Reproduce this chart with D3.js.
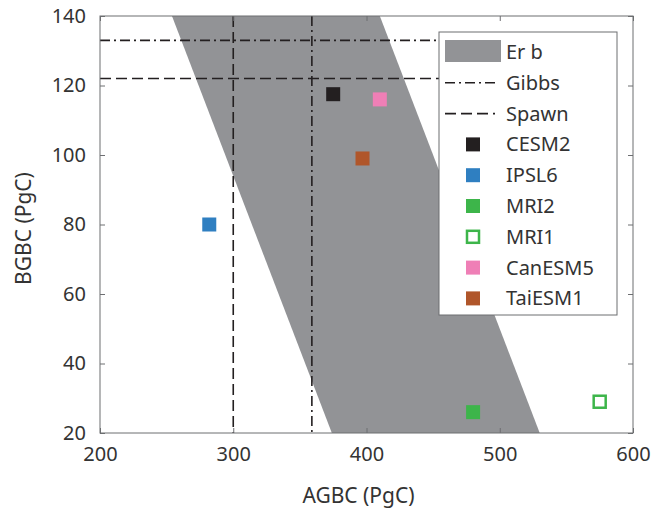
<!DOCTYPE html>
<html>
<head>
<meta charset="utf-8">
<script src="https://cdn.jsdelivr.net/npm/d3@7"></script>
<style>
  html, body { margin: 0; padding: 0; background: #fff; }
  text { font-family: "Noto Sans", "Open Sans", sans-serif; fill: #333; }
</style>
</head>
<body>
<svg id="chart" width="651" height="513"></svg>
<script>
// Model estimates of above-ground vs below-ground biomass carbon
const models = ["CESM2", "IPSL6", "MRI2", "MRI1", "CanESM5", "TaiESM1"];
const agbc = [375, 282, 480, 575, 410, 397];
const bgbc = [117.5, 80, 26, 29, 116, 99];
const colors = ["#231f20", "#2f7fc1", "#3db54a", "#3db54a", "#ef7fb6", "#b0562a"];
const hollow = [false, false, false, true, false, false];

// Observation-based reference values
const spawnAGBC = 300, spawnBGBC = 122;
const gibbsAGBC = 359, gibbsBGBC = 133;
// Band of constant total biomass: AGBC + BGBC between these totals
const bandTotals = [394, 550];

const xTicks = [200, 300, 400, 500, 600];
const yTicks = [20, 40, 60, 80, 100, 120, 140];

const svg = d3.select("#chart");
const m = { left: 100, right: 633, top: 16, bottom: 433 };
const x = d3.scaleLinear().domain([200, 600]).range([m.left, m.right]);
const y = d3.scaleLinear().domain([20, 140]).range([m.bottom, m.top]);

const plot = svg.append("g");
plot.append("clipPath").attr("id", "clip")
  .append("rect").attr("x", m.left).attr("y", m.top)
  .attr("width", m.right - m.left).attr("height", m.bottom - m.top);

const inner = plot.append("g").attr("clip-path", "url(#clip)");

// Shaded band
const [yMin, yMax] = y.domain();
const band = [
  [bandTotals[0] - yMax, yMax], [bandTotals[1] - yMax, yMax],
  [bandTotals[1] - yMin, yMin], [bandTotals[0] - yMin, yMin]
];
inner.append("path")
  .attr("d", d3.line().x(d => x(d[0])).y(d => y(d[1]))(band) + "Z")
  .attr("fill", "#929396");

// Reference lines
const dashDot = "10,4,2,4";
const dashed = "11,5";
const lineW = 1.6;
function vline(v, dash) {
  inner.append("line").attr("x1", x(v)).attr("x2", x(v))
    .attr("y1", y(yMax)).attr("y2", y(yMin))
    .attr("stroke", "#231f20").attr("stroke-width", lineW).attr("stroke-dasharray", dash);
}
function hline(v, dash) {
  inner.append("line").attr("x1", x(200)).attr("x2", x(460))
    .attr("y1", y(v)).attr("y2", y(v))
    .attr("stroke", "#231f20").attr("stroke-width", lineW).attr("stroke-dasharray", dash);
}
vline(spawnAGBC, dashed);
vline(gibbsAGBC, dashDot);
hline(gibbsBGBC, dashDot);
hline(spawnBGBC, dashed);

// Model markers
const ms = 14;
inner.selectAll("rect.pt").data(models).enter().append("rect")
  .attr("class", "pt")
  .attr("x", (d, i) => x(agbc[i]) - ms / 2 + (hollow[i] ? 1 : 0))
  .attr("y", (d, i) => y(bgbc[i]) - ms / 2 + (hollow[i] ? 1 : 0))
  .attr("width", (d, i) => hollow[i] ? ms - 2 : ms)
  .attr("height", (d, i) => hollow[i] ? ms - 2 : ms)
  .attr("fill", (d, i) => hollow[i] ? "#fff" : colors[i])
  .attr("stroke", (d, i) => hollow[i] ? colors[i] : "none")
  .attr("stroke-width", 2.5);

// Axes: box with inward ticks on all four sides
const axisColor = "#6d6e71";
const tickLen = 5;
function styleAxis(g) {
  g.select(".domain").remove();
  g.selectAll(".tick line").attr("stroke", axisColor).attr("stroke-width", 1);
}
const xb = plot.append("g").attr("transform", `translate(0,${m.bottom})`)
  .call(d3.axisBottom(x).tickValues(xTicks).tickSizeInner(-tickLen).tickSizeOuter(0).tickPadding(14));
styleAxis(xb);
xb.selectAll(".tick text").attr("font-size", 20).attr("fill", "#333")
  .attr("font-family", "Noto Sans, sans-serif");
const yl = plot.append("g").attr("transform", `translate(${m.left},0)`)
  .call(d3.axisLeft(y).tickValues(yTicks).tickSizeInner(-tickLen).tickSizeOuter(0).tickPadding(14));
styleAxis(yl);
yl.selectAll(".tick text").attr("font-size", 20).attr("fill", "#333")
  .attr("font-family", "Noto Sans, sans-serif");
const xt = plot.append("g").attr("transform", `translate(0,${m.top})`)
  .call(d3.axisTop(x).tickValues(xTicks).tickSizeInner(-tickLen).tickSizeOuter(0).tickFormat(""));
styleAxis(xt);
const yr = plot.append("g").attr("transform", `translate(${m.right},0)`)
  .call(d3.axisRight(y).tickValues(yTicks).tickSizeInner(-tickLen).tickSizeOuter(0).tickFormat(""));
styleAxis(yr);

plot.append("rect").attr("x", m.left).attr("y", m.top)
  .attr("width", m.right - m.left).attr("height", m.bottom - m.top)
  .attr("fill", "none").attr("stroke", axisColor).attr("stroke-width", 1);

// Axis titles
svg.append("text").attr("x", (m.left + m.right) / 2 - 8).attr("y", 503)
  .attr("text-anchor", "middle").attr("font-size", 21).text("AGBC (PgC)");
svg.append("text").attr("transform", `translate(31,${(m.top + m.bottom) / 2 + 4}) rotate(-90)`)
  .attr("text-anchor", "middle").attr("font-size", 21).text("BGBC (PgC)");

// Legend
const lg = svg.append("g").attr("transform", "translate(439,32)");
lg.append("rect").attr("x", 0).attr("y", 0).attr("width", 178).attr("height", 283)
  .attr("fill", "#fff").attr("stroke", axisColor).attr("stroke-width", 1);
const rowY = i => 20 + i * 30.8;
const textX = 67;
const labels = ["Er b", "Gibbs", "Spawn"].concat(models);
lg.append("rect").attr("x", 6).attr("y", rowY(0) - 12).attr("width", 56).attr("height", 22)
  .attr("fill", "#929396");
lg.append("line").attr("x1", 6).attr("x2", 56).attr("y1", rowY(1)).attr("y2", rowY(1))
  .attr("stroke", "#231f20").attr("stroke-width", lineW).attr("stroke-dasharray", dashDot);
lg.append("line").attr("x1", 6).attr("x2", 56).attr("y1", rowY(2)).attr("y2", rowY(2))
  .attr("stroke", "#231f20").attr("stroke-width", lineW).attr("stroke-dasharray", dashed);
models.forEach((d, i) => {
  const cy = rowY(i + 3);
  lg.append("rect")
    .attr("x", 34 - ms / 2 + (hollow[i] ? 1 : 0)).attr("y", cy - ms / 2 + (hollow[i] ? 1 : 0))
    .attr("width", hollow[i] ? ms - 2 : ms).attr("height", hollow[i] ? ms - 2 : ms)
    .attr("fill", hollow[i] ? "#fff" : colors[i])
    .attr("stroke", hollow[i] ? colors[i] : "none").attr("stroke-width", 2.5);
});
lg.selectAll("text.lab").data(labels).enter().append("text")
  .attr("class", "lab")
  .attr("x", textX).attr("y", (d, i) => rowY(i)).attr("dy", "0.35em")
  .attr("font-size", 20).text(d => d);
</script>
</body>
</html>
